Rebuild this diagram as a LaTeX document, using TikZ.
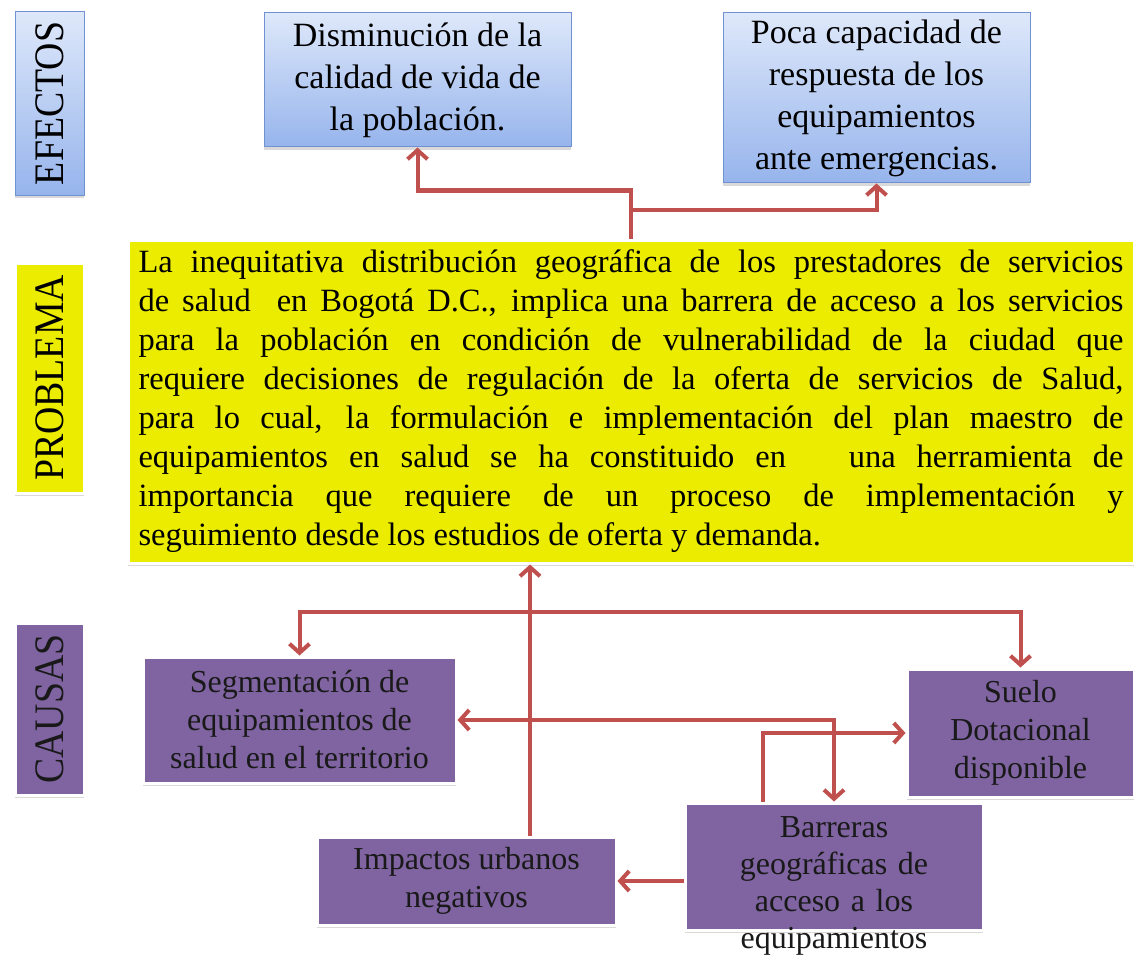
\documentclass[tikz,border=0pt]{standalone}
\usepackage{fontspec}
\setmainfont{Liberation Serif}
\newfontfamily\rotulofont[FakeStretch=0.9]{Liberation Serif}
\usepackage{tikz}
\usetikzlibrary{shapes, arrows.meta, positioning, shadows, calc}
\usepackage{xcolor}
\definecolor{efeclaro}{RGB}{222,232,250}
\definecolor{efeoscuro}{RGB}{150,180,236}
\definecolor{efeborde}{RGB}{112,146,208}
\definecolor{probamarillo}{RGB}{236,236,0}
\definecolor{causamorado}{RGB}{128,100,162}
\definecolor{flecharoja}{RGB}{192,80,77}

\begin{document}
\begin{tikzpicture}[x=1pt, y=-1pt,
    >={Straight Barb[length=9pt, width=20pt]},
    sombra/.style={drop shadow={opacity=0.3, shadow xshift=0pt, shadow yshift=-3pt}},
    efecto/.style={draw=efeborde, line width=1pt, top color=efeclaro, bottom color=efeoscuro, align=center, inner sep=0pt, sombra, font=\fontsize{34}{42}\selectfont},
    causa/.style={draw=white, line width=3pt, fill=causamorado, text=black!90, align=center, inner sep=0pt, sombra, font=\fontsize{32}{38}\selectfont},
    rotulo/.style={rotate=90, inner sep=0pt, minimum height=69pt, font=\rotulofont\fontsize{42}{42}\selectfont},
    flecha/.style={draw=flecharoja, line width=4pt, ->},
    doble/.style={flecha, <->}]
    \useasboundingbox (0,0) rectangle (1134,960);

    % Rotulos de la izquierda
    \node[efecto, rotulo, minimum width=183pt] (efectos) at (49.5,103.5) {EFECTOS};
    \node[draw=white, line width=3pt, fill=probamarillo, sombra, rotulo, minimum width=230pt] (problema) at (49.5,378) {PROBLEMA};
    \node[causa, rotulo, minimum width=172pt] (causas) at (49.5,709) {CAUSAS};

    % Efectos
    \node[efecto, minimum width=307pt, minimum height=134pt] (efA) at (417.5,80) {Disminución de la\\calidad de vida de\\la población.};
    \node[efecto, minimum width=307pt, minimum height=170pt] (efB) at (876.5,98) {Poca capacidad de\\respuesta de los\\equipamientos\\ante emergencias.};

    % Problema central
    \node[draw=white, line width=3pt, fill=probamarillo, sombra, minimum width=1006pt, minimum height=323pt,
          text width=985pt, align=justify, inner sep=0pt, font=\fontsize{32.5}{39}\selectfont] (prob) at (631,401.5)
    {\tolerance=10000 La inequitativa distribución geográfica de los prestadores de servicios\linebreak
    de salud \ en Bogotá D.C., implica una barrera de acceso a los servicios\linebreak
    para la población en condición de vulnerabilidad de la ciudad que\linebreak
    requiere decisiones de regulación de la oferta de servicios de Salud,\linebreak
    para lo cual, la formulación e implementación del plan maestro de\linebreak
    equipamientos en salud se ha constituido en \ \ una herramienta de\linebreak
    importancia que requiere de un proceso de implementación y\linebreak
    seguimiento desde los estudios de oferta y demanda.};

    % Causas
    \node[causa, minimum width=313pt, minimum height=126pt] (segm) at (299.5,720) {Segmentación de\\equipamientos de\\salud en el territorio};
    \node[causa, minimum width=227pt, minimum height=128pt] (suelo) at (1020.5,733) {Suelo\\Dotacional\\disponible};
    \node[causa, minimum width=298pt, minimum height=127pt, text width=298pt, text height=14pt, text depth=73pt,
          font=\fontsize{32}{37}\selectfont] (barr) at (834,866.5)
        {Barreras\\geográficas de\\acceso a los\\equipamientos};
    \node[causa, minimum width=299pt, minimum height=88pt] (impac) at (466.5,881) {Impactos urbanos\\negativos};

    % Conectores hacia los efectos
    \draw[flecha] (prob.north) -- ++(0,-48) -| (efA.south);
    \draw[flecha] (prob.north) ++(0,-29) -| (efB.south);

    % Conectores entre causas
    \coordinate (eje) at (530,612);
    \draw[flecha] (eje |- impac.north) -- (eje |- prob.south);
    \draw[doble] (segm.north) |- (eje) -| (suelo.north);
    \draw[doble] (segm.east) -| (barr.north);
    \draw[flecha] ([xshift=-71pt]barr.north) |- (suelo.west);
    \draw[flecha] (barr.west |- impac.east) -- (impac.east);
\end{tikzpicture}
\end{document}
